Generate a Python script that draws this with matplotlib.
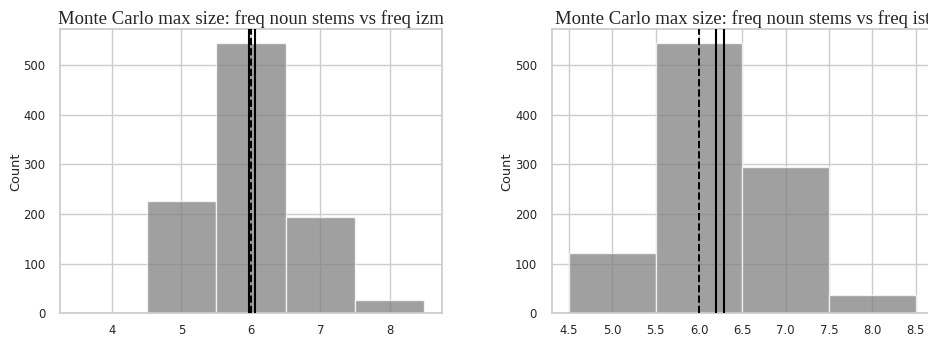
import matplotlib
matplotlib.use("Agg")
import matplotlib.pyplot as plt
import seaborn as sns

sns.set_theme(style="whitegrid")

# Left panel data: bin centres and counts
left_centers = [4, 5, 6, 7, 8]
left_counts = [1, 226, 545, 195, 26]
left_solid = [5.98, 6.06]
left_dashed = 6.0
left_title = "Monte Carlo max size: freq noun stems vs freq izm"
left_ticks = [4, 5, 6, 7, 8]
left_ticklabels = ["4", "5", "6", "7", "8"]

# Right panel data
right_centers = [5.0, 6.0, 7.0, 8.0]
right_counts = [122, 545, 294, 36]
right_solid = [6.2, 6.29]
right_dashed = 6.0
right_title = "Monte Carlo max size: freq noun stems vs freq ist"
right_ticks = [4.5, 5.0, 5.5, 6.0, 6.5, 7.0, 7.5, 8.0, 8.5]
right_ticklabels = ["4.5", "5.0", "5.5", "6.0", "6.5", "7.0", "7.5", "8.0", "8.5"]

yticks = [0, 100, 200, 300, 400, 500]

W, H = 929, 339
fig = plt.figure(figsize=(W / 100, H / 100), dpi=100)

ax1 = fig.add_axes([60 / W, (H - 313.3) / H, (441.7 - 60) / W, (313.3 - 29.3) / H])
ax2 = fig.add_axes([551.7 / W, (H - 313.3) / H, (933 - 551.7) / W, (313.3 - 29.3) / H])

def draw(ax, centers, counts, solid, dashed, title, ticks, ticklabels):
    ax.bar(centers, counts, width=1.0, align="center", color="gray", alpha=0.75,
           edgecolor="white", linewidth=1.0, zorder=2)
    lo = min(centers) - 0.5
    hi = max(centers) + 0.5
    pad = (hi - lo) * 0.05
    ax.set_xlim(lo - pad, hi + pad)
    ax.set_ylim(0, max(counts) * 1.05)
    for s in solid:
        ax.axvline(s, color="black", linewidth=1.5, zorder=3)
    ax.axvline(dashed, color="black", linewidth=1.4, linestyle="--", zorder=3)
    ax.set_xticks(ticks)
    ax.set_xticklabels(ticklabels)
    ax.set_yticks(yticks)
    ax.tick_params(labelsize=8.4, colors="#262626")
    ax.tick_params(axis="y", pad=4.5)
    ax.tick_params(axis="x", pad=2)
    ax.set_ylabel("Count", fontsize=9.3, color="#262626", labelpad=1)
    ax.set_title(title, fontsize=13.5, family="Liberation Serif", color="#262626", pad=4)
    for sp in ax.spines.values():
        sp.set_color("#cccccc")
        sp.set_linewidth(1.25)

draw(ax1, left_centers, left_counts, left_solid, left_dashed, left_title, left_ticks, left_ticklabels)
draw(ax2, right_centers, right_counts, right_solid, right_dashed, right_title, right_ticks, right_ticklabels)

fig.savefig("out.png", dpi=100)
